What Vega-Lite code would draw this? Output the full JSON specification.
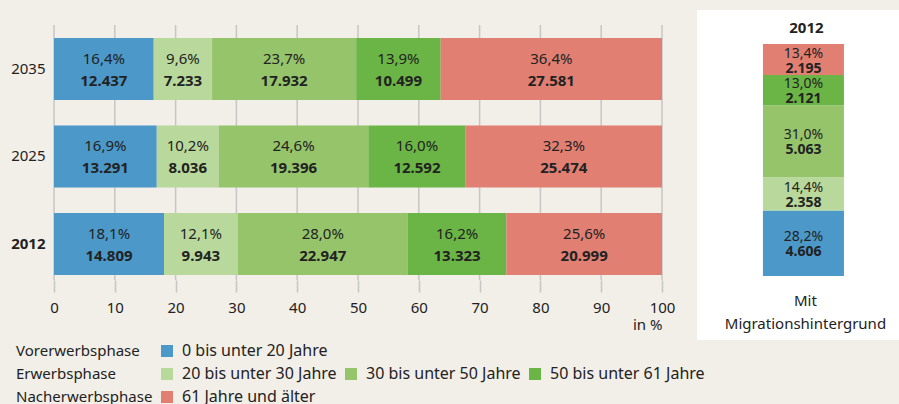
{
  "$schema": "https://vega.github.io/schema/vega-lite/v6.json",
  "background": "#f2eee8",
  "padding": {"left": 0, "top": 10, "right": 0, "bottom": 0},
  "spacing": 22,
  "config": {
    "font": "Noto Sans",
    "view": {"stroke": null},
    "locale": {"number": {"decimal": ",", "thousands": ".", "grouping": [3], "currency": ["", " €"]}},
    "text": {"fontSize": 15, "color": "#222222"}
  },
  "datasets": {
    "left": [
      {"year": "2035", "age": "0 bis unter 20 Jahre", "pct": 16.4, "count": 12437},
      {"year": "2035", "age": "20 bis unter 30 Jahre", "pct": 9.6, "count": 7233},
      {"year": "2035", "age": "30 bis unter 50 Jahre", "pct": 23.7, "count": 17932},
      {"year": "2035", "age": "50 bis unter 61 Jahre", "pct": 13.9, "count": 10499},
      {"year": "2035", "age": "61 Jahre und älter", "pct": 36.4, "count": 27581},
      {"year": "2025", "age": "0 bis unter 20 Jahre", "pct": 16.9, "count": 13291},
      {"year": "2025", "age": "20 bis unter 30 Jahre", "pct": 10.2, "count": 8036},
      {"year": "2025", "age": "30 bis unter 50 Jahre", "pct": 24.6, "count": 19396},
      {"year": "2025", "age": "50 bis unter 61 Jahre", "pct": 16.0, "count": 12592},
      {"year": "2025", "age": "61 Jahre und älter", "pct": 32.3, "count": 25474},
      {"year": "2012", "age": "0 bis unter 20 Jahre", "pct": 18.1, "count": 14809},
      {"year": "2012", "age": "20 bis unter 30 Jahre", "pct": 12.1, "count": 9943},
      {"year": "2012", "age": "30 bis unter 50 Jahre", "pct": 28.0, "count": 22947},
      {"year": "2012", "age": "50 bis unter 61 Jahre", "pct": 16.2, "count": 13323},
      {"year": "2012", "age": "61 Jahre und älter", "pct": 25.6, "count": 20999}
    ],
    "right": [
      {"panel": "Mit Migrationshintergrund", "age": "0 bis unter 20 Jahre", "pct": 28.2, "count": 4606},
      {"panel": "Mit Migrationshintergrund", "age": "20 bis unter 30 Jahre", "pct": 14.4, "count": 2358},
      {"panel": "Mit Migrationshintergrund", "age": "30 bis unter 50 Jahre", "pct": 31.0, "count": 5063},
      {"panel": "Mit Migrationshintergrund", "age": "50 bis unter 61 Jahre", "pct": 13.0, "count": 2121},
      {"panel": "Mit Migrationshintergrund", "age": "61 Jahre und älter", "pct": 13.4, "count": 2195}
    ],
    "ticks": [
      {"v": 0}, {"v": 10}, {"v": 20}, {"v": 30}, {"v": 40}, {"v": 50},
      {"v": 60}, {"v": 70}, {"v": 80}, {"v": 90}, {"v": 100}
    ]
  },
  "hconcat": [
    {
      "width": 608,
      "height": 270,
      "layer": [
        {
          "data": {"name": "ticks"},
          "mark": {"type": "rule", "color": "#c6c6c6", "strokeWidth": 1.5},
          "encoding": {
            "x": {"field": "v", "type": "quantitative"},
            "y": {"datum": "2035", "bandPosition": -0.2097},
            "y2": {"datum": "2012", "bandPosition": 1.0806}
          }
        },
        {
          "data": {"name": "left"},
          "transform": [
            {"calculate": "indexof(['0 bis unter 20 Jahre','20 bis unter 30 Jahre','30 bis unter 50 Jahre','50 bis unter 61 Jahre','61 Jahre und älter'], datum.age)", "as": "k"},
            {"stack": "pct", "groupby": ["year"], "sort": [{"field": "k", "order": "ascending"}], "as": ["x0", "x1"]},
            {"calculate": "(datum.x0 + datum.x1) / 2", "as": "mid"},
            {"calculate": "datum.pct / 100", "as": "frac"}
          ],
          "layer": [
            {
              "mark": {"type": "bar"},
              "encoding": {
                "y": {
                  "field": "year", "type": "nominal",
                  "scale": {"domain": ["2035", "2025", "2012"], "paddingInner": 0.2914, "paddingOuter": 0.1886, "align": 0.848},
                  "axis": {
                    "title": null, "domain": false, "ticks": false, "grid": false,
                    "labelPadding": 9, "labelFontSize": 15, "labelColor": "#222222",
                    "labelFontWeight": {"condition": {"test": "datum.value == '2012'", "value": "bold"}, "value": "normal"},
                    "minExtent": 54, "maxExtent": 54
                  }
                },
                "x": {
                  "field": "x0", "type": "quantitative",
                  "scale": {"domain": [0, 100], "nice": false},
                  "axis": {
                    "orient": "bottom", "values": [0, 10, 20, 30, 40, 50, 60, 70, 80, 90, 100],
                    "grid": false,
                    "ticks": true, "tickColor": "#c6c6c6", "tickWidth": 1.5, "tickSize": 12,
                    "domain": false, "labelPadding": 8, "labelFontSize": 15, "labelFlush": false,
                    "labelColor": "#222222", "title": "in %", "titleFontWeight": "normal",
                    "titleFontSize": 15, "titleColor": "#222222", "titleAnchor": "end", "titlePadding": 2
                  }
                },
                "x2": {"field": "x1"},
                "color": {
                  "field": "age", "type": "nominal",
                  "scale": {
                    "domain": ["Vorerwerbsphase", "Erwerbsphase", "Nacherwerbsphase", "0 bis unter 20 Jahre", "20 bis unter 30 Jahre", "61 Jahre und älter", " ", "30 bis unter 50 Jahre", "   ", "  ", "50 bis unter 61 Jahre"],
                    "range": ["transparent", "transparent", "transparent", "#4b98c9", "#b9d89b", "#e17f73", "transparent", "#95c46b", "transparent", "transparent", "#6ab545"]
                  },
                  "legend": {
                    "orient": "none", "legendX": -42, "legendY": 333, "title": null,
                    "columns": 4, "columnPadding": 6, "rowPadding": 7,
                    "symbolType": "square", "symbolSize": 144, "symbolStrokeWidth": 0,
                    "labelFontSize": 15, "labelColor": "#222222", "labelOffset": 7, "labelLimit": 400,
                    "labelExpr": "datum.label == '0 bis unter 20 Jahre' ? '\u2007' + datum.label : datum.label",
                    "encode": {
                      "labels": {"update": {
                        "dx": {"signal": "indexof(['Vorerwerbsphase','Erwerbsphase','Nacherwerbsphase'], datum.value) >= 0 ? -19 : 0"},
                        "fontSize": {"signal": "indexof(['Vorerwerbsphase','Erwerbsphase','Nacherwerbsphase'], datum.value) >= 0 ? 15 : 16"}
                      }},
                      "symbols": {"update": {"size": {"signal": "indexof(['Vorerwerbsphase','Erwerbsphase','Nacherwerbsphase'], datum.value) >= 0 ? 0 : 144"}}}
                    }
                  }
                }
              }
            },
            {
              "mark": {"type": "text", "dy": -10},
              "encoding": {
                "y": {"field": "year", "type": "nominal"},
                "x": {"field": "mid", "type": "quantitative"},
                "text": {"field": "frac", "type": "quantitative", "format": ".1%"}
              }
            },
            {
              "mark": {"type": "text", "dy": 12, "fontWeight": "bold"},
              "encoding": {
                "y": {"field": "year", "type": "nominal"},
                "x": {"field": "mid", "type": "quantitative"},
                "text": {"field": "count", "type": "quantitative", "format": ",d"}
              }
            }
          ]
        }
      ]
    },
    {
      "width": 202,
      "height": 330,
      "view": {"fill": "#ffffff", "stroke": null},
      "layer": [
        {
          "data": {"name": "right"},
          "transform": [
            {"calculate": "indexof(['0 bis unter 20 Jahre','20 bis unter 30 Jahre','30 bis unter 50 Jahre','50 bis unter 61 Jahre','61 Jahre und älter'], datum.age)", "as": "k"},
            {"stack": "pct", "groupby": ["panel"], "sort": [{"field": "k", "order": "ascending"}], "as": ["y0", "y1"]},
            {"calculate": "(datum.y0 + datum.y1) / 2", "as": "mid"},
            {"calculate": "datum.pct / 100", "as": "frac"}
          ],
          "encoding": {
            "x": {"field": "panel", "type": "nominal", "scale": {"paddingInner": 0, "paddingOuter": 0.747, "align": 0.545}, "axis": null}
          },
          "layer": [
            {
              "mark": {"type": "bar"},
              "encoding": {
                "y": {"field": "y0", "type": "quantitative", "scale": {"domain": [-27.59, 114.66], "nice": false, "zero": false}, "axis": null},
                "y2": {"field": "y1"},
                "color": {
                  "field": "age", "type": "nominal",
                  "scale": {
                    "domain": ["Vorerwerbsphase", "Erwerbsphase", "Nacherwerbsphase", "0 bis unter 20 Jahre", "20 bis unter 30 Jahre", "61 Jahre und älter", " ", "30 bis unter 50 Jahre", "   ", "  ", "50 bis unter 61 Jahre"],
                    "range": ["transparent", "transparent", "transparent", "#4b98c9", "#b9d89b", "#e17f73", "transparent", "#95c46b", "transparent", "transparent", "#6ab545"]
                  }
                }
              }
            },
            {
              "mark": {"type": "text", "dy": -6, "fontSize": 14},
              "encoding": {
                "y": {"field": "mid", "type": "quantitative"},
                "text": {"field": "frac", "type": "quantitative", "format": ".1%"}
              }
            },
            {
              "mark": {"type": "text", "dy": 9, "fontSize": 14, "fontWeight": "bold"},
              "encoding": {
                "y": {"field": "mid", "type": "quantitative"},
                "text": {"field": "count", "type": "quantitative", "format": ",d"}
              }
            }
          ]
        },
        {
          "data": {"values": [{"panel": "Mit Migrationshintergrund", "label": "2012"}]},
          "mark": {"type": "text", "fontWeight": "bold", "baseline": "middle", "dx": 3},
          "encoding": {
            "x": {"field": "panel", "type": "nominal"},
            "y": {"datum": 106.7},
            "text": {"field": "label"}
          }
        },
        {
          "data": {"values": [{"panel": "Mit Migrationshintergrund", "label": "Mit\nMigrationshintergrund"}]},
          "mark": {"type": "text", "baseline": "top", "lineBreak": "\n", "lineHeight": 23, "dx": 2},
          "encoding": {
            "x": {"field": "panel", "type": "nominal"},
            "y": {"datum": -7.76},
            "text": {"field": "label"}
          }
        }
      ]
    }
  ]
}
